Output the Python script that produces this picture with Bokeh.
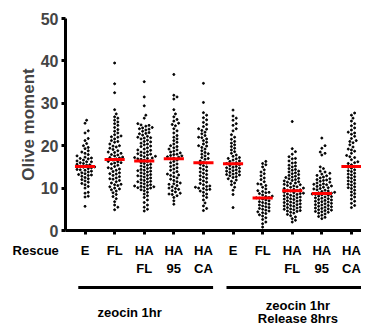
import numpy as np
from bokeh.plotting import figure
from bokeh.models import Range1d, FixedTicker
from bokeh.core.properties import value
from bokeh.embed import file_html
from bokeh.resources import INLINE

# ---- data ----
tick_labels = ["E", "FL", "HA\nFL", "HA\n95", "HA\nCA", "E", "FL", "HA\nFL", "HA\n95", "HA\nCA"]
row_label = "Rescue"
group_labels = ["zeocin 1hr", "zeocin 1hr", "Release 8hrs"]

e_z = [26.0, 25.3, 23.5, 23.0, 21.7, 21.2, 20.5, 20.0, 19.6, 19.3, 18.8, 18.5, 18.2, 17.9, 17.6, 17.3, 17.1, 16.9,
       16.6, 16.4, 16.2, 16.0, 15.8, 15.6, 15.5, 15.4, 15.2, 15.0, 14.8, 14.6, 14.4, 14.2, 14.0, 13.8, 13.6, 13.4,
       13.2, 13.0, 12.8, 12.5, 12.2, 12.0, 11.7, 11.4, 11.1, 10.8, 10.4, 10.0, 9.0, 8.8, 8.1, 7.9, 5.7, 17.0, 16.2,
       14.9, 14.3, 13.1]
fl_z = [39.5, 34.6, 32.5, 28.5, 27.5, 26.8, 26.5, 26.0, 25.6, 25.2, 24.8, 24.3, 23.8, 23.4, 23.0, 22.6, 22.3, 22.0,
        21.6, 21.2, 20.8, 20.4, 20.0, 19.7, 19.4, 19.1, 18.8, 18.5, 18.2, 17.9, 17.6, 17.3, 17.1, 16.9, 16.6, 16.3,
        16.0, 15.7, 15.4, 15.1, 14.8, 14.5, 14.2, 13.9, 13.6, 13.3, 13.0, 12.7, 12.4, 12.1, 11.8, 11.5, 11.2, 10.9,
        10.6, 10.3, 10.0, 9.6, 9.3, 8.9, 8.5, 8.0, 7.5, 6.8, 6.0, 5.5, 4.9, 22.1, 19.9, 18.4, 17.2, 15.9, 14.6, 13.4,
        12.2, 10.8, 9.8, 21.0, 17.8, 16.2]
ha_fl_z = [35.1, 31.5, 29.4, 27.2, 26.5, 25.2, 24.9, 24.6, 24.3, 24.0, 23.7, 23.4, 23.1, 22.8, 22.5, 22.2, 21.9, 21.6,
           21.3, 21.0, 20.6, 20.2, 19.8, 19.5, 19.2, 18.9, 18.6, 18.3, 18.0, 17.7, 17.4, 17.1, 16.9, 24.8, 24.2, 23.9,
           22.9, 22.0, 21.8, 20.9, 20.4, 19.9, 19.0, 18.5, 18.1, 17.8, 17.5, 17.2, 17.0, 16.8, 16.6, 16.4, 16.2, 16.0,
           15.8, 15.6, 15.4, 15.2, 15.0, 14.8, 14.6, 14.4, 14.2, 14.0, 13.8, 13.6, 13.4, 13.2, 13.0, 12.8, 12.6, 12.4,
           12.2, 12.0, 11.8, 11.6, 11.4, 11.2, 11.0, 10.8, 10.6, 10.4, 10.2, 10.0, 9.8, 9.6, 9.4, 9.0, 8.6, 8.2, 7.8,
           7.2, 6.6, 6.0, 5.5, 5.0, 4.6, 10.5, 10.3, 10.1, 14.1, 12.9, 11.5]
ha95_z = [36.8, 31.9, 31.5, 31.0, 28.5, 27.5, 26.8, 26.2, 25.8, 25.3, 24.7, 24.0, 23.5, 22.4, 22.0, 21.6, 20.8, 20.4,
          20.0, 19.5, 19.0, 18.7, 18.3, 18.0, 17.7, 17.4, 17.1, 16.9, 19.8, 18.5, 17.9, 17.3, 16.6, 16.3, 16.0, 15.7,
          15.4, 15.1, 14.8, 14.5, 14.2, 13.9, 13.6, 13.3, 13.0, 12.7, 12.4, 12.1, 11.8, 11.5, 11.2, 10.9, 10.6, 10.3,
          10.0, 9.7, 9.4, 9.1, 8.8, 8.5, 8.2, 7.8, 7.0, 6.2, 13.1, 11.0, 9.9, 8.6, 25.0, 23.0, 21.2, 19.2, 17.6]
ha_ca_z = [34.7, 30.2, 27.8, 27.2, 26.6, 26.1, 25.5, 25.0, 24.5, 24.0, 23.6, 23.2, 22.8, 22.4, 22.0, 21.6, 21.2, 20.8,
           20.4, 20.0, 19.6, 19.2, 18.8, 18.4, 18.0, 17.6, 17.2, 16.8, 16.4, 16.1, 15.9, 15.6, 15.3, 15.0, 14.7, 14.4,
           14.1, 13.8, 13.5, 13.2, 12.9, 12.6, 12.3, 12.0, 11.7, 11.4, 11.1, 10.8, 10.5, 10.2, 9.9, 9.6, 9.3, 9.0, 8.6,
           8.2, 7.8, 7.2, 6.5, 5.8, 5.2, 4.7, 10.4, 10.0, 9.7, 23.9, 21.9, 19.9, 18.1, 17.0]
e_r = [28.4, 27.0, 26.5, 26.0, 25.2, 24.8, 24.0, 23.5, 22.6, 22.0, 21.5, 21.0, 20.6, 20.2, 19.8, 19.4, 19.0, 18.6,
       18.2, 17.8, 17.5, 17.2, 16.9, 16.6, 16.3, 16.0, 15.8, 15.5, 15.3, 15.1, 14.9, 14.7, 14.5, 14.3, 14.1, 13.9,
       13.7, 13.5, 13.3, 13.1, 12.9, 12.7, 12.5, 12.2, 11.9, 11.6, 11.2, 10.8, 10.2, 9.5, 8.5, 5.4, 17.0, 16.4, 15.7,
       14.8, 14.0, 13.2]
fl_r = [16.3, 15.8, 15.5, 15.0, 14.3, 13.8, 13.4, 12.9, 12.4, 12.0, 11.5, 11.0, 10.6, 10.2, 9.8, 9.4, 9.0, 8.7, 8.4,
        8.1, 7.8, 7.6, 7.4, 7.2, 7.0, 6.8, 6.6, 6.4, 6.2, 6.0, 5.8, 5.6, 5.4, 5.2, 5.0, 4.8, 4.6, 4.4, 4.2, 4.0, 3.7,
        3.4, 3.0, 2.6, 2.0, 1.6, 0.8, 9.2, 8.9, 8.0, 7.7, 10.9]
ha_fl_r = [25.7, 19.3, 18.6, 18.0, 17.4, 16.9, 16.4, 15.9, 15.4, 15.0, 14.6, 14.2, 13.8, 13.4, 13.0, 12.6, 12.3, 12.0,
           11.7, 11.4, 11.1, 10.8, 10.5, 10.2, 9.9, 9.6, 9.3, 9.0, 15.2, 14.0, 13.2, 12.8, 12.2, 11.8, 11.2, 10.9,
           10.6, 10.0, 9.7, 9.4, 8.9, 8.7, 8.5, 8.3, 8.1, 7.9, 7.7, 7.5, 7.3, 7.1, 6.9, 6.7, 6.5, 6.3, 6.1, 5.9, 5.7,
           5.5, 5.3, 5.1, 4.9, 4.7, 4.5, 4.3, 4.1, 3.8, 3.5, 3.2, 2.8, 2.4, 2.0, 8.6, 8.2, 7.8, 7.4, 7.0, 6.6, 6.2,
           5.8, 5.4, 5.0, 4.6, 11.5, 10.3, 9.5, 8.8, 12.5, 13.6, 14.4, 16.0, 17.0]
ha95_r = [21.8, 20.0, 19.4, 18.5, 18.2, 17.8, 14.6, 14.0, 13.5, 13.0, 12.6, 12.2, 11.8, 11.4, 11.0, 10.7, 10.4, 10.1,
          9.8, 9.5, 9.2, 8.9, 8.7, 8.5, 8.3, 8.1, 7.9, 7.7, 7.5, 7.3, 7.1, 6.9, 6.7, 6.5, 6.3, 6.1, 5.9, 5.7, 5.5,
          5.3, 5.1, 4.9, 4.7, 4.5, 4.3, 4.1, 3.9, 3.6, 3.3, 2.8, 13.8, 12.9, 12.0, 11.2, 10.5, 9.9, 9.3, 8.8, 8.4,
          8.0, 7.6, 7.2, 6.8, 6.4, 6.0, 5.6, 5.2, 4.8, 4.4, 12.4, 11.6, 10.9, 10.2, 9.6, 9.0, 3.1, 8.6, 15.0, 13.3,
          11.9, 10.8]
ha_ca_r = [27.7, 27.2, 26.5, 25.8, 25.2, 24.7, 24.2, 23.7, 23.2, 22.7, 22.2, 21.7, 21.2, 20.7, 20.2, 19.7, 19.2, 18.7,
           18.2, 17.7, 17.2, 16.7, 16.2, 15.8, 15.5, 15.1, 14.7, 14.3, 13.9, 13.5, 13.1, 12.7, 12.3, 11.9, 11.5, 11.1,
           10.7, 10.3, 9.9, 9.5, 9.1, 8.7, 8.3, 7.9, 7.4, 6.9, 6.4, 5.9, 5.4, 14.9, 14.1, 13.3, 12.5, 11.7, 10.9, 10.1,
           19.0, 21.0, 23.0, 16.0, 17.4]

groups = [e_z, fl_z, ha_fl_z, ha95_z, ha_ca_z, e_r, fl_r, ha_fl_r, ha95_r, ha_ca_r]

# ---- layout ----
W, H = 361, 327
SX, SY = W / 369.0, H / 335.0          # reference px -> figure px
FL_LEFT = 65                            # frame left (y-axis position)
FR_W = W - FL_LEFT
X0, X1 = -0.66, 9.34
PX_X = FR_W / (X1 - X0)
TOP = 18
FR_BOT = int(round(236 * SY))           # x-axis position
FR_H = FR_BOT - TOP
PX_Y = FR_H / 50.0
P_H = FR_BOT + 10                       # top figure height (room for x ticks and the "0" label)
Q_H = H - P_H
DOT_SEP = 3.2
FONT = "Liberation Sans"


def swarm_offsets(vals):
    order = np.argsort(vals)
    placed = []
    offs = np.zeros(len(vals))
    cands = [0.0]
    for j in range(1, 30):
        cands += [j * DOT_SEP * 0.5, -j * DOT_SEP * 0.5]
    for idx in order:
        yp = vals[idx] * PX_Y
        for c in cands:
            if all((px - c) ** 2 + (py - yp) ** 2 >= DOT_SEP ** 2 for (px, py) in placed):
                break
        placed.append((c, yp))
        offs[idx] = c / PX_X
    return offs


xs, ys = [], []
for i, g in enumerate(groups):
    g = np.array(g, dtype=float)
    xs += list(i + swarm_offsets(g))
    ys += list(g)

meds = [float(np.median(g)) for g in groups]
cats = list(range(len(groups)))

# ---- top figure: data + axes ----
p = figure(width=W, height=P_H, output_backend="svg", toolbar_location=None,
           x_range=Range1d(X0, X1), y_range=Range1d(0, 50),
           min_border_left=FL_LEFT, min_border_right=0, min_border_top=TOP, min_border_bottom=P_H - FR_BOT)
p.grid.visible = False
p.outline_line_color = None

p.scatter(xs, ys, size=2.0, color="black", marker="circle")
p.segment(x0=[c - 0.34 for c in cats], x1=[c + 0.34 for c in cats], y0=meds, y1=meds,
          line_color="#ff0000", line_width=3)

ya = p.yaxis[0]
ya.ticker = FixedTicker(ticks=[0, 10, 20, 30, 40, 50])
ya.axis_line_width = 3
ya.major_tick_line_width = 3
ya.major_tick_out = 4
ya.major_tick_in = 0
ya.minor_tick_line_color = None
ya.major_label_text_font = FONT
ya.major_label_text_font_style = "bold"
ya.major_label_text_font_size = "16px"
ya.major_label_standoff = 3
ya.axis_label = "Olive moment"
ya.axis_label_text_font = FONT
ya.axis_label_text_font_style = "bold"
ya.axis_label_text_font_size = "17px"
ya.axis_label_standoff = 0

xa = p.xaxis[0]
xa.ticker = FixedTicker(ticks=cats)
xa.axis_line_width = 3
xa.major_tick_line_width = 3
xa.major_tick_out = 4
xa.major_tick_in = 0
xa.minor_tick_line_color = None
xa.major_label_text_color = None       # category names are drawn in the panel below
xa.major_label_text_font_size = "1px"
xa.major_label_standoff = 0

# ---- bottom figure: category names, brackets, group names ----
q = figure(width=W, height=Q_H, output_backend="svg", toolbar_location=None,
           x_axis_location=None, y_axis_location=None,
           x_range=Range1d(X0 - FL_LEFT / PX_X, X1), y_range=Range1d(H, P_H),
           min_border_left=0, min_border_right=0, min_border_top=0, min_border_bottom=0)
q.grid.visible = False
q.outline_line_color = None


def xd(ref_x):
    return (ref_x * SX - FL_LEFT) / PX_X + X0


def yd(ref_y):
    return ref_y * SY


txt = dict(text_font=value(FONT), text_font_style="bold", text_font_size="13px", text_color="black")

q.text(x=cats, y=[yd(248)] * len(cats), text=tick_labels, text_align="center", text_baseline="top",
       text_line_height=1.25, **txt)
q.text(x=[xd(36)], y=[yd(248)], text=[row_label], text_align="center", text_baseline="top", **txt)

q.segment(x0=[xd(79.5), xd(231)], x1=[xd(217.3), xd(372)], y0=[yd(294)] * 2, y1=[yd(294)] * 2,
          line_width=3, line_color="black")

q.text(x=[xd(132), xd(304), xd(304)], y=[yd(320), yd(312), yd(325.5)], text=group_labels,
       text_align="center", text_baseline="middle", **txt)

open("out.html", "w").write(file_html([p, q], INLINE))
